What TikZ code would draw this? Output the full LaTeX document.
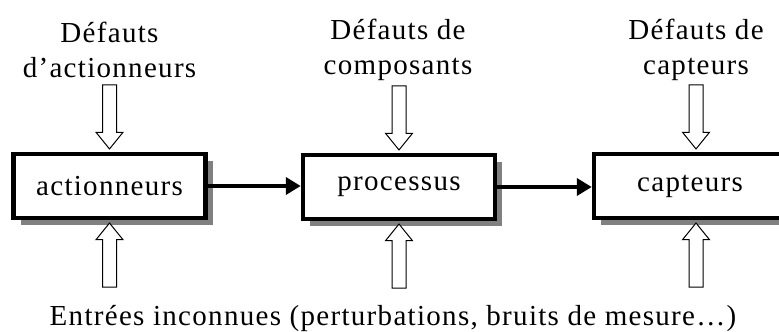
\documentclass[tikz,border=0pt]{standalone}
\usepackage{fontspec}
\setmainfont{Liberation Serif}[LetterSpace=4.5]
\usetikzlibrary{shapes.arrows,shadows,arrows.meta}

\begin{document}
\begin{tikzpicture}[x=0.5pt,y=-0.5pt,
        font=\fontsize{14.5}{17.5}\selectfont,
        bloc/.style={draw,line width=2.25pt,fill=white,minimum width=96pt,minimum height=32pt,inner sep=0pt,
          drop shadow={shadow xshift=3.5pt,shadow yshift=-3.5pt,fill=black!50,opacity=1}},
        fleche/.style={line width=2.25pt,-{Triangle[length=7.5pt,width=8.5pt]}},
        entree/.style={draw,line width=0.5pt,fill=white,single arrow,single arrow tip angle=78,
          single arrow head extend=3.25pt,minimum height=32pt,inner xsep=0pt,inner ysep=3.25pt},
        lbl/.style={align=center}]
        \clip (0,0) rectangle (779,331);
        \node[bloc] (A) at (109.5,186) {actionneurs};
        \node[bloc] (P) at (399,187) {processus};
        \node[bloc] (C) at (690,186) {capteurs};
        \node[lbl] (DA) at (109.5,50) {Défauts\\d’actionneurs};
        \node[lbl] (DP) at (398,50) {Défauts de\\composants};
        \node[lbl] (DC) at (696,50) {Défauts de\\capteurs};
        \node[anchor=base] (E) at (393,325) {Entrées inconnues (perturbations, bruits de mesure…)};
        \node[entree,rotate=-90,anchor=tip] (FA) at ([yshift=1pt]A.north) {};
        \node[entree,rotate=-90,anchor=tip] (FP) at ([yshift=1pt]P.north) {};
        \node[entree,rotate=-90,anchor=tip] (FC) at ([xshift=3pt,yshift=1pt]C.north) {};
        \node[entree,rotate=90,anchor=tip] (EA) at ([yshift=-1pt]A.south) {};
        \node[entree,rotate=90,anchor=tip] (EP) at ([yshift=-1pt]P.south) {};
        \node[entree,rotate=90,anchor=tip] (EC) at ([xshift=3pt,yshift=-1pt]C.south) {};
        \draw[fleche] (A.east) -- (A.east -| P.west);
        \draw[fleche] (P.east) -- (P.east -| C.west);
      \end{tikzpicture}
\end{document}
